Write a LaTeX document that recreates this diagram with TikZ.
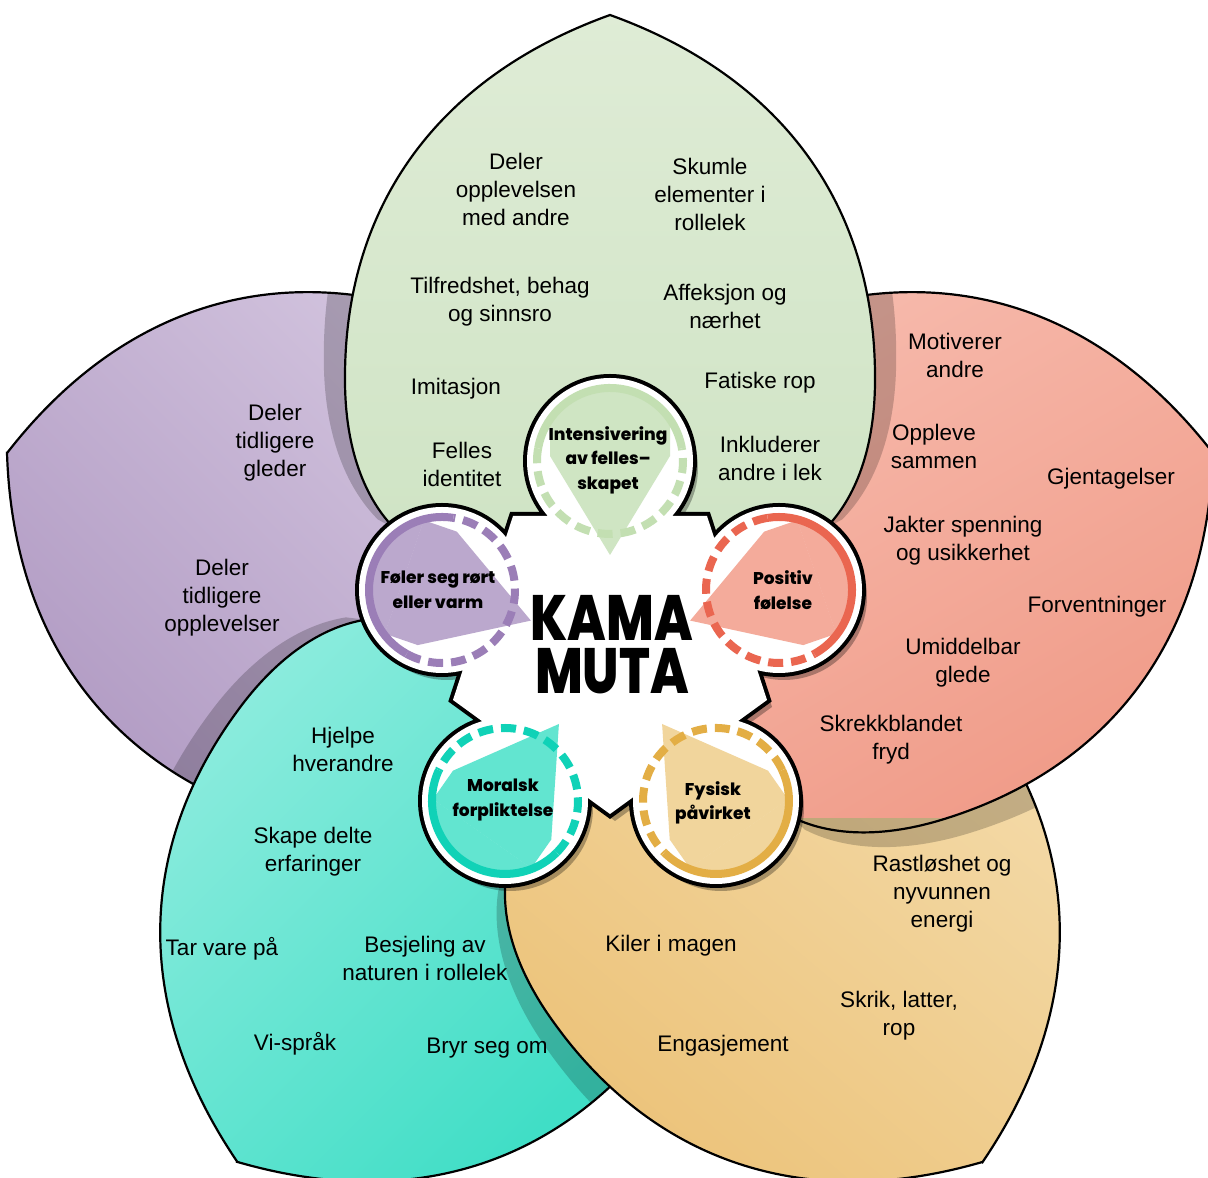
\documentclass[tikz,border=0pt]{standalone}
\usepackage{fontspec}
\usepackage{graphicx}
\setmainfont{Liberation Sans}
\newfontfamily\kmfont{Poppins}
\IfFontExistsTF{Poppins ExtraBold}
  {\newfontfamily\kmheavy{Poppins ExtraBold}}
  {\newcommand{\kmheavy}{\kmfont\bfseries}}

\definecolor{greenA}{HTML}{DFECD6}
\definecolor{greenB}{HTML}{CCE2C1}
\definecolor{greenFill}{HTML}{CFE5C3}
\definecolor{greenRing}{HTML}{C3DFB2}
\definecolor{redA}{HTML}{F6B8AA}
\definecolor{redB}{HTML}{F09B88}
\definecolor{redFill}{HTML}{F4AB9B}
\definecolor{redRing}{HTML}{EA6650}
\definecolor{yellowA}{HTML}{F4DBAA}
\definecolor{yellowB}{HTML}{ECC37A}
\definecolor{yellowFill}{HTML}{F1D59C}
\definecolor{yellowRing}{HTML}{E3AE45}
\definecolor{tealA}{HTML}{8EECDE}
\definecolor{tealB}{HTML}{40DEC6}
\definecolor{tealFill}{HTML}{62E5D0}
\definecolor{tealRing}{HTML}{10D2B7}
\definecolor{purpleA}{HTML}{D1C2DD}
\definecolor{purpleB}{HTML}{B29CC4}
\definecolor{purpleFill}{HTML}{BBA8CD}
\definecolor{purpleRing}{HTML}{9B7EB7}

\newcommand{\petalpath}{(0,634) .. controls (175,571) and (266,440) .. (265,269)
  .. controls (265,200) and (245,150) .. (215,120) -- (0,0) -- (-215,120)
  .. controls (-245,150) and (-265,200) .. (-265,269)
  .. controls (-266,440) and (-175,571) .. cycle}
\newcommand{\corepath}{(707,662) -- (513,662) -- (453,478) -- (610,364) -- (767,478) -- cycle
  (610,717) circle[radius=83] (779,588) circle[radius=83] (716,377) circle[radius=83]
  (505,377) circle[radius=83] (442,588) circle[radius=83]}
\newcommand{\badge}[5]{%
  \begin{scope}[shift={(#1,#2)},rotate=#3]
    \fill[#4] (94,0) -- (-5,60) -- (-40,60) -- (-40,-60) -- (-5,-60) -- cycle;
    \fill[#4] (123:73) arc[start angle=123,end angle=237,radius=73] -- cycle;
    \draw[ring=#5] (100:73) arc[start angle=100,end angle=260,radius=73];
    \draw[ring=#5,dash pattern=on 15pt off 8pt] (-100:73) arc[start angle=-100,end angle=100,radius=73];
  \end{scope}}

\begin{document}
\begin{tikzpicture}[x=1pt,y=1pt,
   txt/.style={align=center,font=\fontsize{22.5}{28}\selectfont},
   badgetxt/.style={align=center,font=\kmheavy\fontsize{17}{24.5}\selectfont},
   bigtxt/.style={inner sep=0pt,font=\kmheavy\fontsize{64}{64}\selectfont},
   petalrot/.style={shift={(610,529)},rotate=#1},
   petalline/.style={draw=black,line width=2.2pt},
   petalshadow/.style={fill=black,opacity=.2},
   ring/.style={line width=8pt,draw=#1}]
\useasboundingbox (0,0) rectangle (1208,1178);
\clip (0,0) rectangle (1208,1178);

% purple petal
\begin{scope}
  \clip[petalrot=72] \petalpath;
  \shade[top color=purpleA,bottom color=purpleB,shading angle=-45] (0,380) rectangle (480,900);
\end{scope}
\draw[petalline,petalrot=72] \petalpath;

% teal petal
\begin{scope}
  \clip[petalrot=72] \petalpath;
  \fill[petalshadow,petalrot=144,scale=1.08] \petalpath;
\end{scope}
\begin{scope}
  \clip[petalrot=144] \petalpath;
  \shade[top color=tealA,bottom color=tealB,shading angle=45] (130,0) rectangle (650,560);
\end{scope}
\draw[petalline,petalrot=144] \petalpath;

% yellow petal
\begin{scope}
  \clip[petalrot=144] \petalpath;
  \fill[petalshadow,petalrot=-144,scale=1.08] \petalpath;
\end{scope}
\begin{scope}
  \clip[petalrot=-144] \petalpath;
  \shade[top color=yellowA,bottom color=yellowB,shading angle=-40] (500,0) rectangle (1080,560);
\end{scope}
\draw[petalline,petalrot=-144] \petalpath;

% red petal
\begin{scope}
  \clip[petalrot=-144] \petalpath;
  \fill[petalshadow,petalrot=-72,scale=1.08] \petalpath;
\end{scope}
\begin{scope}
  \clip[petalrot=-72] \petalpath;
  \shade[top color=redA,bottom color=redB,shading angle=30] (740,360) rectangle (1215,900);
\end{scope}
\draw[petalline,petalrot=-72] \petalpath;

% green petal
\begin{scope}
  \clip[petalrot=72] \petalpath;
  \fill[petalshadow,petalrot=0,scale=1.08] \petalpath;
\end{scope}
\begin{scope}
  \clip[petalrot=-72] \petalpath;
  \fill[petalshadow,petalrot=0,scale=1.08] \petalpath;
\end{scope}
\begin{scope}
  \clip[petalrot=0] \petalpath;
  \shade[top color=greenA,bottom color=greenB] (340,520) rectangle (880,1170);
\end{scope}
\draw[petalline,petalrot=0] \petalpath;

% white core
\fill[black,opacity=.3,shift={(5,-7)}] \corepath;
\draw[line width=8pt] \corepath;
\fill[white] \corepath;

\badge{610}{717}{-90}{greenFill}{greenRing}
\badge{779}{588}{199}{redFill}{redRing}
\badge{716}{377}{125}{yellowFill}{yellowRing}
\badge{505}{377}{55}{tealFill}{tealRing}
\badge{442}{588}{-19}{purpleFill}{purpleRing}

\node[badgetxt] (bGreen) at (608,718) {Intensivering\\av felles–\\skapet};
\node[badgetxt] (bRed) at (783,588) {Positiv\\følelse};
\node[badgetxt] (bYellow) at (713,375) {Fysisk\\påvirket};
\node[badgetxt] (bTeal) at (503,378) {Moralsk\\forpliktelse};
\node[badgetxt] (bPurple) at (438,588) {Føler seg rørt\\eller varm};

\node[bigtxt] (kama) at (612,560) {\scalebox{.8}[1]{KAMA}};
\node[bigtxt] (muta) at (612,507) {\scalebox{.8}[1]{MUTA}};

% green texts
\node[txt] (g1) at (516,989) {Deler\\opplevelsen\\med andre};
\node[txt] (g2) at (710,984) {Skumle\\elementer i\\rollelek};
\node[txt] (g3) at (500,876) {Tilfredshet, behag\\og sinnsro};
\node[txt] (g4) at (725,872) {Affeksjon og\\nærhet};
\node[txt] (g5) at (456,789) {Imitasjon};
\node[txt] (g6) at (760,795) {Fatiske rop};
\node[txt] (g7) at (462,714) {Felles\\identitet};
\node[txt] (g8) at (770,720) {Inkluderer\\andre i lek};
% purple texts
\node[txt] (p1) at (275,735) {Deler\\tidligere\\gleder};
\node[txt] (p2) at (222,580) {Deler\\tidligere\\opplevelser};
% red texts
\node[txt] (r1) at (955,823) {Motiverer\\andre};
\node[txt] (r2) at (934,732) {Oppleve\\sammen};
\node[txt] (r3) at (1111,699) {Gjentagelser};
\node[txt] (r4) at (963,637) {Jakter spenning\\og usikkerhet};
\node[txt] (r5) at (1097,571) {Forventninger};
\node[txt] (r6) at (963,515) {Umiddelbar\\glede};
\node[txt] (r7) at (891,438) {Skrekkblandet\\fryd};
% yellow texts
\node[txt] (y1) at (942,284) {Rastløshet og\\nyvunnen\\energi};
\node[txt] (y2) at (671,232) {Kiler i magen};
\node[txt] (y3) at (899,162) {Skrik, latter,\\rop};
\node[txt] (y4) at (723,132) {Engasjement};
% teal texts
\node[txt] (t1) at (343,429) {Hjelpe\\hverandre};
\node[txt] (t2) at (313,326) {Skape delte\\erfaringer};
\node[txt] (t3) at (222,229) {Tar vare på};
\node[txt] (t4) at (425,220) {Besjeling av\\naturen i rollelek};
\node[txt] (t5) at (295,134) {Vi-språk};
\node[txt] (t6) at (487,130) {Bryr seg om};
\end{tikzpicture}
\end{document}
